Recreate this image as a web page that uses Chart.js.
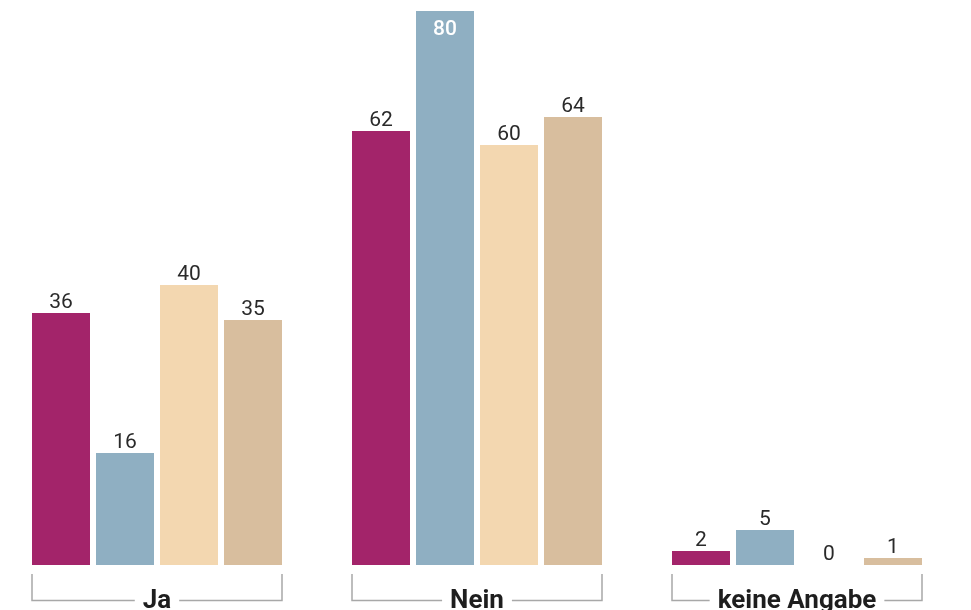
<!DOCTYPE html>
<html>
<head>
<meta charset="utf-8">
<script src="https://cdn.jsdelivr.net/npm/chart.js@4"></script>
<style>
  html, body { margin: 0; padding: 0; background: #fff; overflow: hidden; }
  #wrap { position: absolute; left: -3px; top: 0; width: 974px; height: 610px; }
</style>
</head>
<body>
<div id="wrap"><canvas id="myChart" width="974" height="610"></canvas></div>
<script>
// answers per group, in percent
const categories = ['Ja', 'Nein', 'keine Angabe']
const seriesA = [36, 62, 2]
const seriesB = [16, 80, 5]
const seriesC = [40, 60, 0]
const seriesD = [35, 64, 1]
const seriesNames = ['Gruppe A', 'Gruppe B', 'Gruppe C', 'Gruppe D']
const colors = ['#a3246a', '#8fafc2', '#f3d7b0', '#d8be9e']

// top of the plot cuts the tallest bar, like in the print version
const yMax = 79.15

// value labels above (or inside, if cut off) each bar
const valueLabels = {
    id: 'valueLabels',
    afterDatasetsDraw(chart) {
        const ctx = chart.ctx
        const top = chart.chartArea.top
        ctx.save()
        ctx.textAlign = 'center'
        ctx.textBaseline = 'alphabetic'
        chart.data.datasets.forEach((ds, i) => {
            chart.getDatasetMeta(i).data.forEach((bar, j) => {
                const v = ds.data[j]
                if (v > yMax) {
                    ctx.font = '500 21px Roboto'
                    ctx.fillStyle = '#fff'
                    ctx.fillText(v, bar.x, top + 24)
                } else {
                    ctx.font = '400 21px Roboto'
                    ctx.fillStyle = '#2a2a2a'
                    ctx.fillText(v, bar.x, bar.y - 5)
                }
            })
        })
        ctx.restore()
    }
}

// bracket under every group with the category name
const groupBrackets = {
    id: 'groupBrackets',
    afterDraw(chart) {
        const ctx = chart.ctx
        const xs = chart.scales.x
        ctx.save()
        ctx.font = 'bold 26px Roboto'
        ctx.textAlign = 'center'
        ctx.textBaseline = 'alphabetic'
        ctx.strokeStyle = '#a8a8a8'
        ctx.lineWidth = 1.5
        categories.forEach((c, i) => {
            const cx = xs.getPixelForValue(i)
            const l = cx - 125, r = cx + 125
            const w = ctx.measureText(c).width
            ctx.beginPath()
            ctx.moveTo(l, 574)
            ctx.lineTo(l, 600.5)
            ctx.lineTo(cx - w / 2 - 8, 600.5)
            ctx.moveTo(cx + w / 2 + 8, 600.5)
            ctx.lineTo(r, 600.5)
            ctx.lineTo(r, 574)
            ctx.stroke()
            ctx.fillStyle = '#1e1e1e'
            ctx.fillText(c, cx, 608)
        })
        ctx.restore()
    }
}

const allSeries = [seriesA, seriesB, seriesC, seriesD]

new Chart(document.getElementById('myChart'), {
    type: 'bar',
    data: {
        labels: categories,
        datasets: allSeries.map((s, i) => ({
            label: seriesNames[i],
            data: s,
            backgroundColor: colors[i],
            borderWidth: 0,
            clip: 0,
            categoryPercentage: 0.8,
            barPercentage: 0.90625
        }))
    },
    options: {
        responsive: false,
        animation: false,
        layout: { padding: { left: 0, right: 14, top: 11, bottom: 45 } },
        plugins: {
            legend: { display: false },
            tooltip: { enabled: false }
        },
        scales: {
            x: { display: false },
            y: { display: false, min: 0, max: yMax }
        }
    },
    plugins: [valueLabels, groupBrackets]
})
</script>
</body>
</html>
